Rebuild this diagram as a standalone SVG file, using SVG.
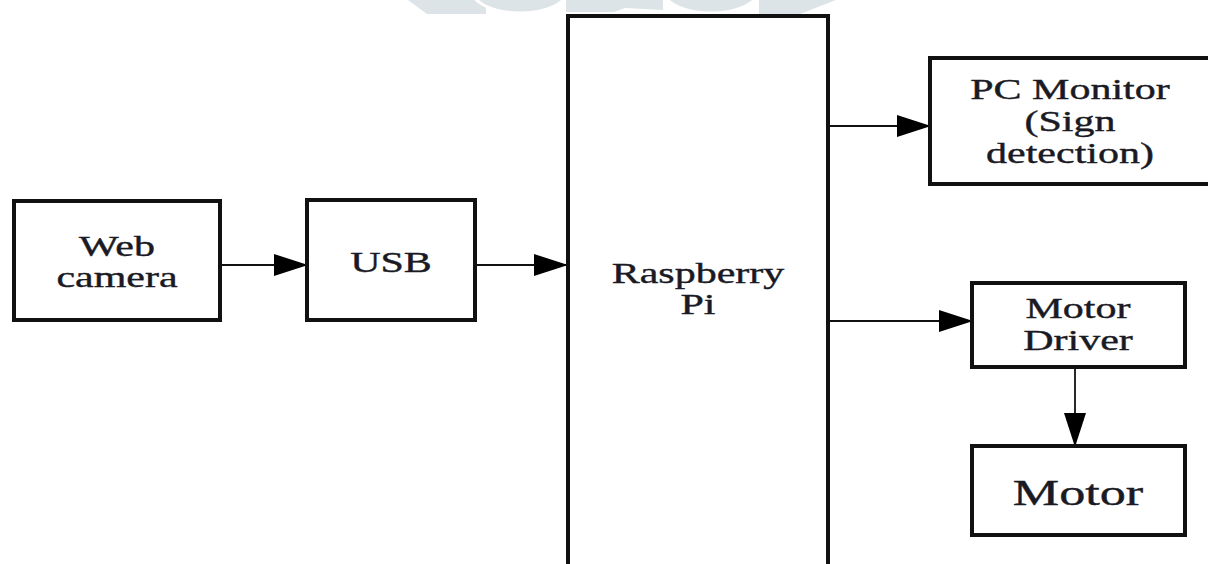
<svg xmlns="http://www.w3.org/2000/svg" width="1208" height="564" viewBox="0 0 1208 564">
  <style>
    .box { fill: #ffffff; stroke: #111111; stroke-width: 4; }
    .lbl { font-family: "Liberation Serif", "Times New Roman", serif; font-size: 30px; fill: #1a1a24; stroke: #1a1a24; stroke-width: 0.4; text-anchor: middle; }
    .big { font-size: 36px; }
    .conn { stroke: #111111; stroke-width: 1.8; fill: none; marker-end: url(#arrow); }
    .wm { fill: #dde4e7; }
  </style>
  <defs>
    <marker id="arrow" markerUnits="userSpaceOnUse" markerWidth="34" markerHeight="22" refX="33" refY="11" orient="auto">
      <path d="M0,0 L34,11 L0,22 Z" fill="#000000"/>
    </marker>
  </defs>
  <rect width="1208" height="564" fill="#ffffff"/>

  <g id="watermark">
    <polygon class="wm" points="408,0 486,0 486,14 427,14"/>
    <ellipse class="wm" cx="520" cy="-10" rx="48" ry="23" stroke="#ffffff" stroke-width="3"/>
    <polygon class="wm" points="566,0 663,0 663,10 625,8 614,12 566,12"/>
    <ellipse class="wm" cx="711" cy="-10" rx="48" ry="23" stroke="#ffffff" stroke-width="3"/>
    <polygon class="wm" points="759,0 836,0 800,14 759,14"/>
  </g>

  <g id="connectors">
    <line class="conn" x1="220" y1="265" x2="307" y2="265"/>
    <line class="conn" x1="475" y1="265" x2="567" y2="265"/>
    <line class="conn" x1="828" y1="126" x2="930" y2="126"/>
    <line class="conn" x1="828" y1="321" x2="972" y2="321"/>
    <line class="conn" x1="1075" y1="367" x2="1075" y2="446"/>
  </g>

  <g id="web-camera">
    <rect class="box" x="14" y="201" width="206" height="119"/>
    <text class="lbl" transform="translate(117 0) scale(1.4 1)" x="0" y="256">Web</text>
    <text class="lbl" transform="translate(117 0) scale(1.4 1)" x="0" y="287">camera</text>
  </g>

  <g id="usb">
    <rect class="box" x="307" y="200" width="168" height="120"/>
    <text class="lbl" transform="translate(391 0) scale(1.4 1)" x="0" y="272">USB</text>
  </g>

  <g id="raspberry-pi">
    <path class="box" d="M568,570 V16 H828 V570"/>
    <text class="lbl" transform="translate(698 0) scale(1.4 1)" x="0" y="283">Raspberry</text>
    <text class="lbl" transform="translate(698 0) scale(1.4 1)" x="0" y="314">Pi</text>
  </g>

  <g id="pc-monitor">
    <rect class="box" x="930" y="58" width="290" height="126"/>
    <text class="lbl" transform="translate(1070 0) scale(1.4 1)" x="0" y="99">PC Monitor</text>
    <text class="lbl" transform="translate(1070 0) scale(1.4 1)" x="0" y="131">(Sign</text>
    <text class="lbl" transform="translate(1070 0) scale(1.4 1)" x="0" y="163">detection)</text>
  </g>

  <g id="motor-driver">
    <rect class="box" x="972" y="283" width="213" height="84"/>
    <text class="lbl" transform="translate(1078 0) scale(1.4 1)" x="0" y="318">Motor</text>
    <text class="lbl" transform="translate(1078 0) scale(1.4 1)" x="0" y="350">Driver</text>
  </g>

  <g id="motor">
    <rect class="box" x="972" y="446" width="213" height="89"/>
    <text class="lbl big" transform="translate(1078 0) scale(1.45 1)" x="0" y="505">Motor</text>
  </g>
</svg>
